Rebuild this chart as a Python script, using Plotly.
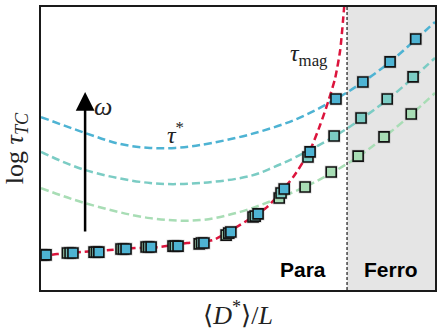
import plotly.graph_objects as go

# marker data (x in steps of system size, y in log tau units)
x_blue = [0, 1.02, 2.0, 3.03, 3.98, 5.0, 5.98, 7.0, 8.03, 9.02, 10.0, 10.98, 12.0, 13.03, 14.0]
y_blue = [1.24, 1.31, 1.34, 1.45, 1.52, 1.55, 1.66, 2.05, 2.69, 3.57, 4.88, 6.75, 7.35, 8.06, 8.87]

x_teal = [-0.09, 0.91, 1.91, 2.93, 3.88, 4.89, 5.89, 6.92, 7.92, 8.9, 9.92, 10.91, 11.93, 12.92, 13.9]
y_teal = [1.24, 1.31, 1.34, 1.45, 1.52, 1.55, 1.66, 2.01, 2.61, 3.43, 4.70, 5.44, 6.08, 6.75, 7.53]

x_green = [-0.19, 0.81, 1.82, 2.84, 3.79, 4.81, 5.8, 6.82, 7.84, 8.83, 9.81, 10.8, 11.82, 12.8, 13.83]
y_green = [1.24, 1.31, 1.34, 1.45, 1.52, 1.55, 1.63, 1.94, 2.58, 3.25, 3.64, 4.17, 4.73, 5.41, 6.22]

# dashed guide curves
x_tau_blue = [-0.19, 1.48, 2.80, 3.94, 4.89, 5.83, 7.73, 9.51, 10.98, 12.0, 13.03, 14.02, 14.73]
y_tau_blue = [6.11, 5.55, 5.16, 5.02, 5.02, 5.12, 5.50, 6.05, 6.75, 7.35, 8.06, 8.87, 9.47]

x_tau_teal = [-0.19, 1.48, 3.94, 5.83, 7.73, 8.6, 9.51, 10.91, 11.93, 12.92, 13.9, 14.73]
y_tau_teal = [4.88, 4.24, 3.78, 3.78, 4.03, 4.33, 4.72, 5.42, 6.04, 6.72, 7.50, 8.20]

x_tau_green = [-0.19, 1.48, 3.94, 5.83, 7.35, 8.6, 9.89, 10.8, 11.82, 12.8, 13.83, 14.73]
y_tau_green = [3.60, 3.07, 2.54, 2.47, 2.76, 3.17, 3.68, 4.13, 4.71, 5.40, 6.20, 6.96]

x_mag = [-0.19, 0.42, 1.33, 2.42, 3.37, 4.32, 5.34, 6.33, 7.35, 8.37, 9.36, 10.0, 10.38, 10.68, 10.95, 11.14, 11.29]
y_mag = [1.20, 1.27, 1.34, 1.41, 1.48, 1.52, 1.66, 1.77, 2.30, 2.93, 3.99, 4.95, 5.83, 6.64, 7.49, 8.48, 10.0]

x_transition = 11.4

BLUE = "#4eb3d3"
TEAL = "#7bccc4"
GREEN = "#a8ddb5"
RED = "#dc143c"

fig = go.Figure()

# Curves
for xs, ys, c in [
    (x_tau_green, y_tau_green, GREEN),
    (x_tau_teal, y_tau_teal, TEAL),
    (x_tau_blue, y_tau_blue, BLUE),
]:
    fig.add_trace(go.Scatter(
        x=xs, y=ys, mode="lines",
        line=dict(color=c, width=2.5, dash="8px,4px", shape="spline", smoothing=1.0),
        hoverinfo="skip",
    ))

fig.add_trace(go.Scatter(
    x=x_mag, y=y_mag, mode="lines",
    line=dict(color=RED, width=2.5, dash="7px,4px", shape="spline", smoothing=0.6),
    hoverinfo="skip",
))

# Markers (faint grey halo under each square, as in the original)
for xs, ys, c in [
    (x_green, y_green, GREEN),
    (x_teal, y_teal, TEAL),
    (x_blue, y_blue, BLUE),
]:
    fig.add_trace(go.Scatter(
        x=xs, y=ys, mode="markers", hoverinfo="skip",
        marker=dict(symbol="square", size=13, color="rgba(90,90,90,0.25)", line_width=0),
    ))
    fig.add_trace(go.Scatter(
        x=xs, y=ys, mode="markers",
        marker=dict(symbol="square", size=10, color=c, line=dict(color="#111111", width=1.6)),
    ))

# Ferro region
fig.add_shape(type="rect", xref="x", yref="y", x0=x_transition, x1=14.73, y0=0, y1=10,
              fillcolor="#e5e5e5", line_width=0, layer="below")
fig.add_shape(type="line", xref="x", yref="y", x0=x_transition, x1=x_transition, y0=0, y1=10,
              line=dict(color="#444444", width=1.5, dash="3px,2px"))

# Arrow and labels
fig.add_annotation(x=1.48, y=7.0, ax=1.48, ay=2.01, xref="x", yref="y", axref="x", ayref="y",
                   text="", showarrow=True, arrowhead=2, arrowsize=1.5, arrowwidth=2.5,
                   arrowcolor="black")

serif = "Liberation Serif, DejaVu Serif, serif"
labels = [
    (2.16, 6.47, "<i>ω</i>", 26, serif),
    (4.89, 5.55, "<i>τ</i><sup>*</sup>", 24, serif),
    (9.96, 8.3, "<i>τ</i><sub>mag</sub>", 24, serif),
]
for x, y, t, s, f in labels:
    fig.add_annotation(x=x, y=y, text=t, showarrow=False, font=dict(family=f, size=s, color="#222"))

sans = "Liberation Sans, Arial, sans-serif"
fig.add_annotation(x=9.72, y=0.71, text="<b>Para</b>", showarrow=False,
                   font=dict(family=sans, size=21, color="black"))
fig.add_annotation(x=13.07, y=0.71, text="<b>Ferro</b>", showarrow=False,
                   font=dict(family=sans, size=21, color="black"))

axis_common = dict(showline=True, mirror=True, linecolor="#1a1a1a", linewidth=1.8,
                   showgrid=False, zeroline=False, showticklabels=False, ticks="",
                   automargin=False)

fig.update_xaxes(range=[-0.19, 14.73], title=dict(
    text="⟨<i>D</i><sup>*</sup>⟩/<i>L</i>", font=dict(family=serif, size=26, color="#222")),
    **axis_common)
fig.update_yaxes(range=[0, 10], title=dict(
    text="log <i>τ</i><sub><i>TC</i></sub>", font=dict(family=serif, size=26, color="#222")),
    **axis_common)

fig.update_layout(
    width=443, height=332,
    margin=dict(l=41, r=8, t=7, b=42),
    showlegend=False,
    plot_bgcolor="white",
    paper_bgcolor="white",
)

# drop the default page margin so the figure sits at the window corner
fig.write_html("out.html", config={"displayModeBar": False},
               post_script="document.body.style.margin='0';")
